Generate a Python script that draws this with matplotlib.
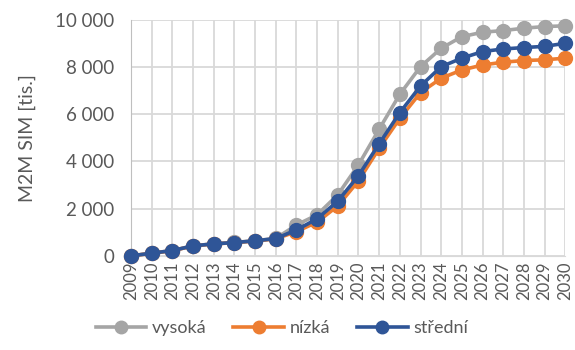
import matplotlib.pyplot as plt
from matplotlib.ticker import FuncFormatter

years = list(range(2009, 2031))
vysoka = [0, 115, 225, 425, 510, 570, 640, 740, 1310, 1740, 2590, 3860,
          5370, 6850, 8020, 8800, 9290, 9480, 9550, 9650, 9720, 9750]
nizka = [0, 110, 220, 420, 505, 560, 630, 720, 1030, 1430, 2120, 3180,
         4560, 5830, 6920, 7530, 7880, 8090, 8210, 8280, 8310, 8380]
stredni = [0, 113, 226, 424, 508, 565, 636, 734, 1100, 1570, 2320, 3400,
           4750, 6070, 7200, 8020, 8380, 8660, 8770, 8830, 8880, 9010]

series = [("vysoká", vysoka, "#A5A5A5"),
          ("nízká", nizka, "#ED7D31"),
          ("střední", stredni, "#2F5597")]

plt.rcParams['font.family'] = ['Lato', 'DejaVu Sans']
txt = "#595959"

fig = plt.figure(figsize=(5.75, 3.5), dpi=100)
ax = fig.add_axes([0.228, 0.269, 0.755, 0.674])

for name, vals, col in series:
    ax.plot(years, vals, color=col, lw=2.6, marker="o", ms=10,
            label=name, clip_on=False, zorder=3)

ax.set_xlim(2009, 2030)
ax.set_ylim(0, 10000)
ax.set_xticks(years)
ax.set_xticklabels([str(y) for y in years], rotation=90, fontsize=12, color=txt)
ax.set_yticks(range(0, 10001, 2000))
ax.yaxis.set_major_formatter(FuncFormatter(lambda v, p: f"{int(v):,}".replace(",", " ")))
ax.tick_params(axis="y", labelsize=13.5, labelcolor=txt, length=0, pad=12)
ax.tick_params(axis="x", length=0, pad=4)
ax.grid(True, color="#D9D9D9", lw=1.3, zorder=0)
ax.set_axisbelow(True)
for s in ["top", "right"]:
    ax.spines[s].set_visible(False)
ax.spines["left"].set_color("#BFBFBF")
ax.spines["bottom"].set_color("#D9D9D9")
ax.set_ylabel("M2M SIM [tis.]", fontsize=14, color=txt, labelpad=14)

fig.legend(loc="center", bbox_to_anchor=(0.49, 0.062), ncol=3, frameon=False,
           fontsize=13, labelcolor=txt, handlelength=2.8, handletextpad=0.3,
           columnspacing=1.5, markerscale=0.9)

fig.savefig("out.png", dpi=100)
